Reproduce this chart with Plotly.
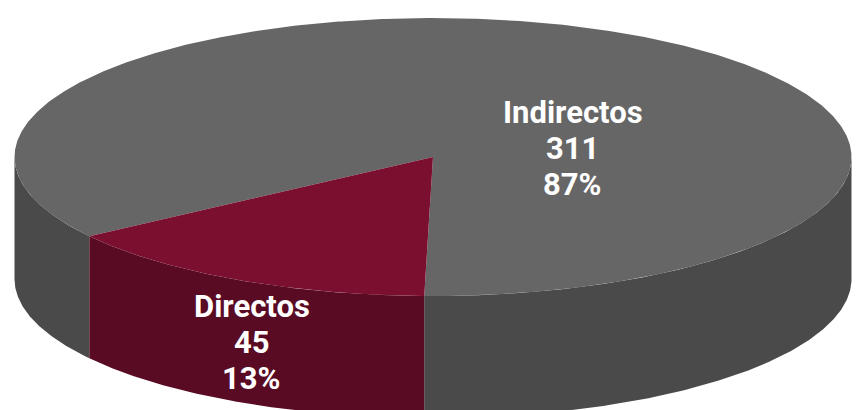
import numpy as np
import plotly.graph_objects as go

categories = ["Directos", "Indirectos"]
counts = [45, 311]
percents = [13, 87]
# sweep of each slice on the ellipse (the tilt stretches it)
sweeps_deg = [54.0, 306.0]
start_deg = 91.2

top_colors = ["#7a0f30", "#666666"]
side_colors = ["#5a0b24", "#4a4a4a"]

RX, RY, DEPTH = 418.5, 139, 122


def rim(a0, a1, drop=0):
    t = np.radians(np.linspace(a0, a1, max(int(abs(a1 - a0)) * 3, 2)))
    return RX * np.cos(t), -RY * np.sin(t) - drop


def wall(a0, a1):
    # only the front half (0-180 deg) of the rim is visible
    a0, a1 = max(a0, 0), min(a1, 180)
    x1, y1 = rim(a0, a1)
    x2, y2 = rim(a1, a0, DEPTH)
    return np.r_[x1, x2, x1[0]], np.r_[y1, y2, y1[0]]


def add_shape(fig, x, y, color, name):
    fig.add_trace(go.Scatter(x=x, y=y, mode="lines", fill="toself", fillcolor=color,
                             line=dict(width=0, color=color), name=name, hoverinfo="name"))


fig = go.Figure()

# walls first, then the top faces
d0, d1 = start_deg, start_deg + sweeps_deg[0]
i1 = d1 + sweeps_deg[1]
wx, wy = wall(0, d0)
add_shape(fig, wx, wy, side_colors[1], categories[1])
wx, wy = wall(d1, 180)
add_shape(fig, wx, wy, side_colors[1], categories[1])
wx, wy = wall(d0, d1)
add_shape(fig, wx, wy, side_colors[0], categories[0])

for a0, a1, color, name in [(d1, i1, top_colors[1], categories[1]), (d0, d1, top_colors[0], categories[0])]:
    x, y = rim(a0, a1)
    add_shape(fig, np.r_[0, x, 0], np.r_[0, y, 0], color, name)

label_x = [-181.5, 139.5]
label_y = [-185, 9]
line_gap = 36
for i, name in enumerate(categories):
    lines = [name, str(counts[i]), f"{percents[i]}%"]
    for j, line in enumerate(lines):
        fig.add_annotation(x=label_x[i], y=label_y[i] + (1 - j) * line_gap, text=f"<b>{line}</b>",
                           showarrow=False, xanchor="center", yanchor="middle",
                           font=dict(family="Roboto", size=31, color="white"))

# the page body has an 8px margin, so the figure sits 8px in from the window edge
fig.update_layout(
    width=857, height=402,
    margin=dict(l=0, r=0, t=0, b=0),
    paper_bgcolor="white", plot_bgcolor="white",
    showlegend=False,
    xaxis=dict(range=[-425, 432], visible=False),
    yaxis=dict(range=[-253, 149], visible=False),
)

fig.write_html("out.html")
